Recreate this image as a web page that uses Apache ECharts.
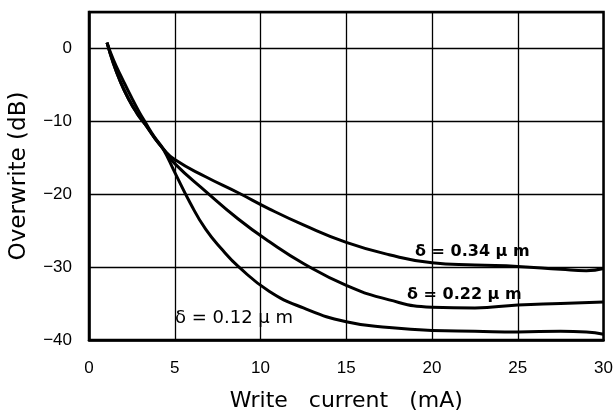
<!DOCTYPE html>
<html>
<head>
<meta charset="utf-8">
<script src="https://cdn.jsdelivr.net/npm/echarts@6/dist/echarts.min.js"></script>
<style>html,body{margin:0;padding:0;background:#fff;}#c{width:616px;height:417px;}</style>
</head>
<body>
<div id="c"></div>
<script>
// Write current (mA) vs Overwrite (dB)
const xTicks = [0, 5, 10, 15, 20, 25, 30];
const yTicks = [-40, -30, -20, -10, 0];

const d034 = [[1.05,0.8],[1.4,-1.9],[1.8,-4.4],[2.3,-6.9],[2.8,-8.9],[3.3,-10.5],[3.8,-12.2],[4.3,-13.7],[5,-15.25],[6.8,-17.6],[8.7,-19.8],[10.5,-22.0],[12.5,-24.2],[15,-26.6],[17.5,-28.3],[20,-29.4],[22.5,-29.7],[25,-29.9],[27.5,-30.3],[29,-30.5],[30,-30.2]];
const d022 = [[1.05,0.8],[1.4,-1.9],[1.8,-4.4],[2.3,-6.9],[2.8,-8.9],[3.3,-10.5],[3.8,-12.2],[4.3,-13.7],[5,-15.8],[6.8,-19.6],[8.7,-23.4],[10.5,-26.5],[12.5,-29.5],[15,-32.5],[17.5,-34.5],[20,-35.5],[22.5,-35.6],[25,-35.2],[27.5,-35.0],[30,-34.8]];
const d012 = [[1.05,0.8],[1.45,-1.7],[1.95,-4.2],[2.45,-6.6],[2.9,-8.6],[3.3,-10.2],[3.8,-12.1],[4.3,-13.7],[5,-17.0],[5.9,-21.2],[6.8,-24.8],[7.8,-27.7],[8.7,-29.9],[10.5,-33.3],[12.5,-35.6],[15,-37.5],[17.5,-38.3],[20,-38.7],[22.5,-38.8],[25,-38.9],[27.5,-38.8],[29,-38.9],[30,-39.2]];

const labels = ['δ = 0.34 μ m', 'δ = 0.22 μ m', 'δ = 0.12 μ m'];

const chart = echarts.init(document.getElementById('c'), null, {renderer: 'canvas'});
const font = 'Liberation Sans, Arial, sans-serif';
const wide = 'DejaVu Sans, sans-serif';
const lineStyle = {color: '#000', width: 3};
function mk(name, data) {
  return {name, type: 'line', data, smooth: 0.5, symbol: 'none', lineStyle, silent: true, animation: false};
}
chart.setOption({
  animation: false,
  backgroundColor: '#fff',
  grid: {left: 89, right: 11, top: 12, bottom: 72, show: true, borderColor: '#000', borderWidth: 2.5, backgroundColor: 'transparent'},
  xAxis: {
    type: 'value', min: xTicks[0], max: xTicks[xTicks.length-1], interval: 5,
    name: 'Write   current   (mA)', nameLocation: 'middle', nameGap: 50,
    nameTextStyle: {fontFamily: wide, fontSize: 22, color: '#000'},
    axisLine: {show: true, onZero: false, lineStyle: {color: '#000', width: 2.5}},
    axisTick: {show: false},
    axisLabel: {fontFamily: font, fontSize: 17, color: '#000', margin: 20},
    splitLine: {show: true, lineStyle: {color: '#000', width: 1.3}}
  },
  yAxis: {
    type: 'value', min: yTicks[0], max: 5, interval: 10,
    name: 'Overwrite (dB)', nameLocation: 'middle', nameGap: 58,
    nameTextStyle: {fontFamily: wide, fontSize: 23, color: '#000'},
    axisLine: {show: true, onZero: false, lineStyle: {color: '#000', width: 2.5}},
    axisTick: {show: false},
    axisLabel: {fontFamily: font, fontSize: 17, color: '#000', margin: 17, showMaxLabel: false,
      formatter: v => (v < 0 ? '\u2212' + Math.abs(v) : String(v))},
    splitLine: {show: true, lineStyle: {color: '#000', width: 1.3}}
  },
  series: [mk('0.34', d034), mk('0.22', d022), mk('0.12', d012)],
  graphic: [
    {type: 'text', x: 415, y: 252, style: {text: labels[0], font: 'bold 16px ' + wide, fill: '#000', align: 'left', verticalAlign: 'middle'}},
    {type: 'text', x: 407, y: 295, style: {text: labels[1], font: 'bold 16px ' + wide, fill: '#000', align: 'left', verticalAlign: 'middle'}},
    {type: 'text', x: 175, y: 318, style: {text: labels[2], font: '18px ' + wide, fill: '#000', align: 'left', verticalAlign: 'middle'}}
  ]
});
</script>
</body>
</html>
